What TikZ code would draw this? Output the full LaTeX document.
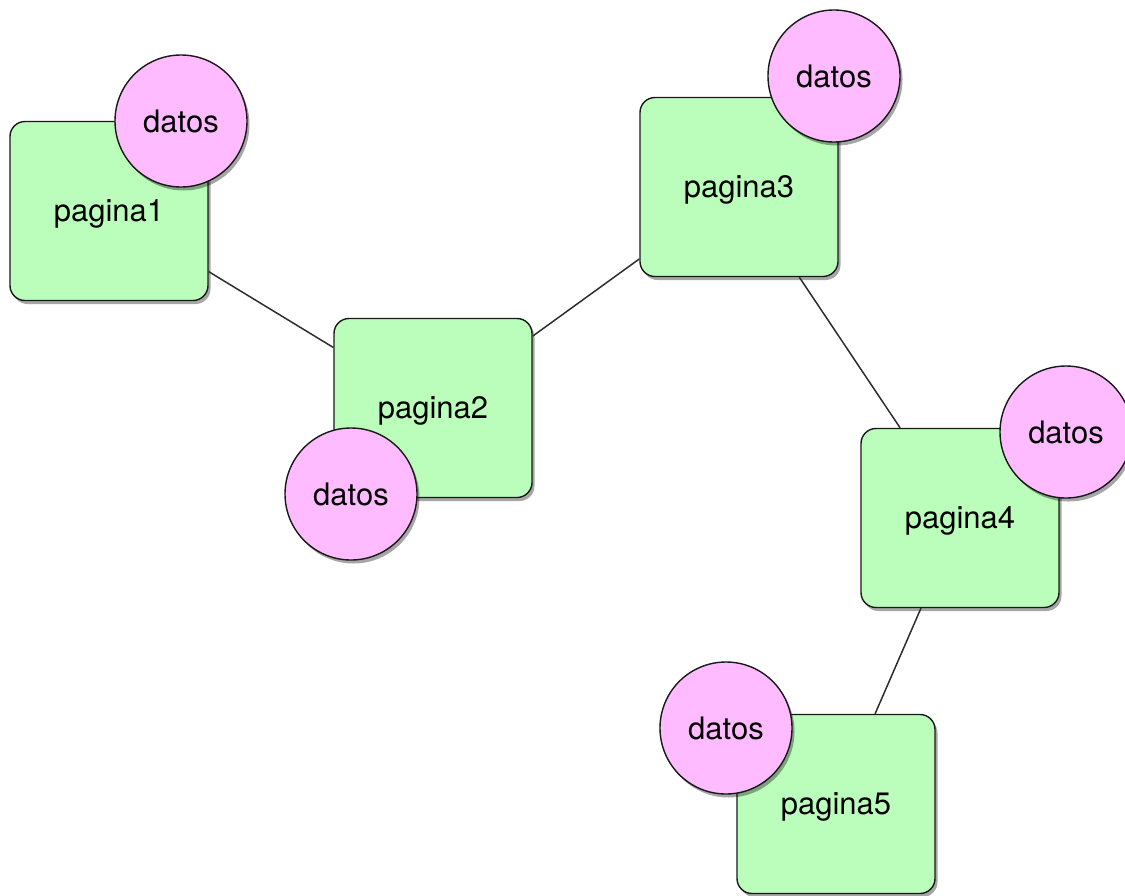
\documentclass[tikz,border=0pt]{standalone}
\usepackage{fontspec}
\setmainfont{TeX Gyre Heros}
\usetikzlibrary{shadows}
\definecolor{boxgreen}{RGB}{187,253,187}
\definecolor{dotpink}{RGB}{255,187,255}
\definecolor{edgegray}{RGB}{45,45,45}
\tikzset{
  pagebox/.style={draw=black!90, line width=1.4pt, fill=boxgreen, rounded corners=15pt,
    minimum width=198pt, minimum height=179pt, inner sep=0pt, text depth=0pt,
    font=\fontsize{31}{37}\selectfont,
    drop shadow={shadow xshift=2.5pt, shadow yshift=-3.5pt, opacity=0.35, fill=black}},
  datacirc/.style={circle, draw=black!90, line width=1.4pt, fill=dotpink,
    minimum size=132pt, inner sep=0pt,
    font=\fontsize{31}{37}\selectfont,
    drop shadow={shadow xshift=2.5pt, shadow yshift=-3.5pt, opacity=0.35, fill=black}},
  link/.style={draw=edgegray, line width=1.5pt}
}
\begin{document}
\begin{tikzpicture}[x=1pt, y=-1pt]
\useasboundingbox (0,0) rectangle (1125,895);
\clip (0,0) rectangle (1125,895);
\coordinate (c1) at (109,211);
\coordinate (c2) at (433,408);
\coordinate (c3) at (739,187);
\coordinate (c4) at (960,518);
\coordinate (c5) at (836,804);
\node[pagebox] (p1) at (c1) {pagina1};
\node[pagebox] (p2) at (c2) {pagina2};
\node[pagebox] (p3) at (c3) {pagina3};
\node[pagebox] (p4) at (c4) {pagina4};
\node[pagebox] (p5) at (c5) {pagina5};
\draw[link] (p1) -- (p2);
\draw[link] (p2) -- (p3);
\draw[link] (p3) -- (p4);
\draw[link] (p4) -- (p5);
\node[datacirc] (d1) at (181,121) {datos};
\node[datacirc] (d2) at (351,494) {datos};
\node[datacirc] (d3) at (834,76) {datos};
\node[datacirc] (d4) at (1066,432) {datos};
\node[datacirc] (d5) at (726,728) {datos};
\end{tikzpicture}
\end{document}
